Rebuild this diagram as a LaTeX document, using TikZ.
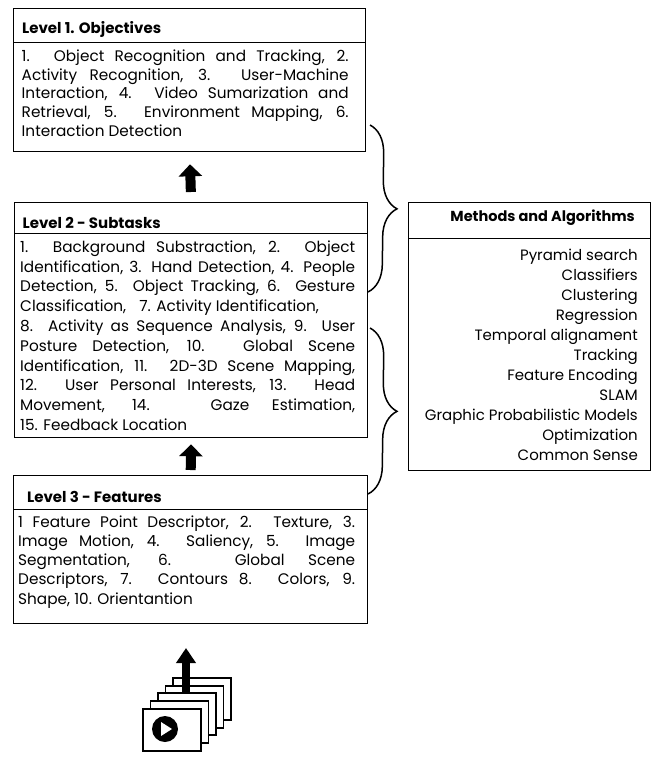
\documentclass[tikz,border=0pt]{standalone}
\usepackage{fontspec}
\setmainfont{Poppins}
\usetikzlibrary{arrows.meta,decorations.pathreplacing}

\tikzset{
	levelframe/.style={draw, line width=1.3pt, inner sep=0pt, anchor=north west},
	headtext/.style={font=\fontsize{15}{17}\selectfont\bfseries, inner sep=0pt, anchor=west},
	bodytext/.style={font=\fontsize{15.3}{#1}\selectfont, inner sep=0pt, anchor=north west, align=justify},
	uparrow/.style={line width=10pt, -{Triangle[length=12pt,width=23pt]}},
	methodbrace/.style={decorate, decoration={brace, amplitude=28pt}, line width=1.5pt},
	videoframe/.style={draw, fill=white, line width=1.5pt, minimum width=58pt, minimum height=42pt, inner sep=0pt, anchor=north west}
}

\begin{document}
\begin{tikzpicture}[x=1pt, y=-1pt]
	\useasboundingbox (0,0) rectangle (651,758);
	
	% level 1
	\node[levelframe, minimum width=352pt, minimum height=143pt] (lvl1) at (13,8) {};
	\draw[line width=0.8pt] (13,42.7) -- (365,42.7);
	\node[headtext] (head1) at (22,29) {Level 1. Objectives};
	\node[bodytext=18.75, text width=327pt] (body1) at (21.5,49.5) {1. Object Recognition and Tracking, 2.\linebreak Activity Recognition, 3. User-Machine\linebreak Interaction, 4. Video Sumarization and\linebreak Retrieval, 5. Environment Mapping, 6.\linebreak Interaction Detection};
	
	% level 2
	\node[levelframe, minimum width=353pt, minimum height=235pt] (lvl2) at (14,202) {};
	\draw[line width=0.8pt] (14,233) -- (367,233);
	\node[headtext] (head2) at (22.5,223) {Level 2 - Subtasks};
	\node[bodytext=19.8, text width=335pt] (body2) at (20,240.5) {1. Background Substraction, 2. Object\linebreak Identification, 3. Hand Detection, 4. People\linebreak Detection, 5. Object Tracking, 6. Gesture\linebreak Classification,\hspace{9pt} 7. Activity Identification,\\ 8. Activity as Sequence Analysis, 9. User\linebreak Posture Detection, 10. Global Scene\linebreak Identification, 11. 2D-3D Scene Mapping,\linebreak 12. User Personal Interests, 13. Head\linebreak Movement, 14. Gaze Estimation,\linebreak 15. Feedback Location};
	
	% level 3
	\node[levelframe, minimum width=354pt, minimum height=148pt] (lvl3) at (13,475) {};
	\draw[line width=0.8pt] (13,509) -- (367,509);
	\node[headtext] (head3) at (27,497) {Level 3 - Features};
	\node[bodytext=19.2, text width=337pt] (body3) at (18,515.5) {1 Feature Point Descriptor, 2. Texture, 3.\linebreak Image Motion, 4. Saliency, 5. Image\linebreak Segmentation, 6. Global Scene\linebreak Descriptors, 7. Contours 8. Colors, 9.\linebreak Shape, 10. Orientantion};
	
	% methods
	\node[draw, line width=0.9pt, minimum width=242pt, minimum height=268pt, inner sep=0pt, anchor=north west] (methods) at (408,202) {};
	\draw[line width=0.8pt] (408,238) -- (650,238);
	\node[font=\fontsize{14.5}{17}\selectfont\bfseries, inner sep=0pt, anchor=east] (mhead) at (635,218) {Methods and Algorithms};
	\node[font=\fontsize{15}{20}\selectfont, inner sep=0pt, anchor=north east, align=right] (mlist) at (638,249) {Pyramid search\\ Classifiers\\ Clustering\\ Regression\\ Temporal alignament\\ Tracking\\ Feature Encoding\\ SLAM\\ Graphic Probabilistic Models\\ Optimization\\ Common Sense};
	
	% braces
	\coordinate (b1top) at (370,125);
	\coordinate (b1bot) at (368,292);
	\coordinate (b2top) at (370,328);
	\coordinate (b2bot) at (368,494);
	\draw[methodbrace] (b1top) -- (b1bot);
	\draw[methodbrace] (b2top) -- (b2bot);
	
	% arrows between levels
	\draw[uparrow, shorten <=10pt, shorten >=12pt] (lvl2.north) -- (lvl1.south);
	\draw[uparrow, shorten <=5pt, shorten >=6pt] (lvl3.north) -- (lvl2.south);
	
	% video icon
	\node[videoframe] (v5) at (172,677) {};
	\node[videoframe] (v4) at (164.5,685) {};
	\coordinate (vbase) at (186,692);
	\coordinate (vtip) at (186,648);
	\draw[line width=8pt, -{Triangle[length=15pt,width=19pt]}] (vbase) -- (vtip);
	\node[videoframe] (v3) at (157,692) {};
	\node[videoframe] (v2) at (149.5,700) {};
	\node[videoframe] (v1) at (142,708) {};
	\fill (165,729) circle (13);
	\fill[white] (161,722) -- (172,729) -- (161,736) -- cycle;
\end{tikzpicture}
\end{document}
